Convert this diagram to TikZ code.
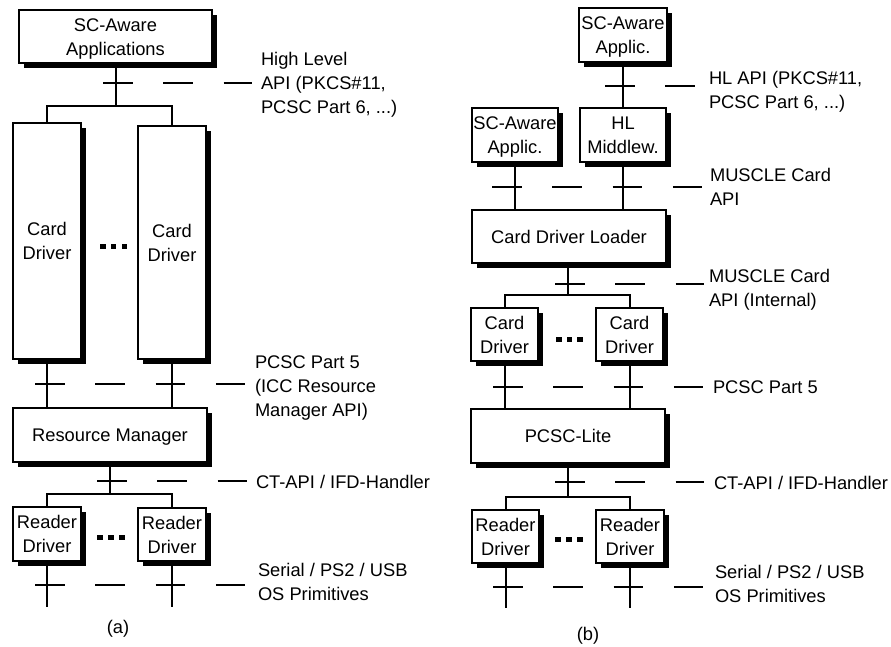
\documentclass[tikz,border=0pt]{standalone}
\usepackage{fontspec}
\setmainfont{Liberation Sans}
\usetikzlibrary{shadows}
\newcommand{\sst}{\rule[-4pt]{0pt}{21pt}}
\begin{document}
\begin{tikzpicture}[x=1pt,y=-1pt,
  every node/.style={font=\fontsize{18.3}{24}\selectfont, inner sep=0pt, outer sep=0pt},
  box/.style={draw, line width=2pt, fill=white, align=center,
     drop shadow={shadow xshift=5pt, shadow yshift=-5pt, opacity=1, fill=black}},
  wire/.style={line width=2pt},
  apidash/.style={line width=2pt, dash pattern=on 29.5pt off 30.75pt},
  lab/.style={anchor=west, align=left}]
\useasboundingbox (0,0) rectangle (891,647);

% ---------------- panel (a) ----------------
\node[box, minimum width=193pt, minimum height=53pt] (appA) at (115.5,37) {\sst SC-Aware\\ \sst Applications};
\node[box, minimum width=68pt, minimum height=236pt] (cdA1) at (47,241) {\sst Card\\ \sst Driver};
\node[box, minimum width=68pt, minimum height=233pt] (cdA2) at (172,242.5) {\sst Card\\ \sst Driver};
\node[box, minimum width=194pt, minimum height=54pt] (rm) at (110,435) {\sst Resource Manager};
\node[box, minimum width=68pt, minimum height=54pt] (rdA1) at (47,534) {\sst Reader\\ \sst Driver};
\node[box, minimum width=68pt, minimum height=53pt] (rdA2) at (172,534.5) {\sst Reader\\ \sst Driver};

\coordinate (busA1) at (115.5,106);
\draw[wire] (appA.south) -- (busA1);
\draw[wire] (cdA1.north) |- (busA1) -| (cdA2.north);
\draw[wire] (cdA1.south) -- (cdA1.south |- rm.north);
\draw[wire] (cdA2.south) -- (cdA2.south |- rm.north);
\coordinate (busA2) at (110,494);
\draw[wire] (rm.south) -- (busA2);
\draw[wire] (rdA1.north) |- (busA2) -| (rdA2.north);
\coordinate (endA1) at (47,607);
\coordinate (endA2) at (172,607);
\draw[wire] (rdA1.south) -- (endA1);
\draw[wire] (rdA2.south) -- (endA2);

% api dashes (a)
\coordinate (da1s) at (103,83);  \coordinate (da1e) at (252,83);
\coordinate (da2s) at (35,384);  \coordinate (da2e) at (246,384);
\coordinate (da3s) at (97,481);  \coordinate (da3e) at (248,481);
\coordinate (da4s) at (35,585);  \coordinate (da4e) at (246,585);
\draw[apidash] (da1s) -- (da1e);
\draw[apidash] (da2s) -- (da2e);
\draw[apidash] (da3s) -- (da3e);
\draw[apidash] (da4s) -- (da4e);

\node[lab] (la1) at (261,83) {\sst High Level\\ \sst API (PKCS\#11,\\ \sst PCSC Part 6, ...)};
\node[lab] (la2) at (255,385.5) {\sst PCSC Part 5\\ \sst (ICC Resource\\ \sst Manager API)};
\node[lab] (la3) at (256,482) {\sst CT-API / IFD-Handler};
\node[lab] (la4) at (258,582) {\sst Serial / PS2 / USB\\ \sst OS Primitives};
\node (capA) at (118,627) {\sst (a)};

% dots (a)
\foreach \cx in {103,113.7,124.3} \fill (\cx-2.75,246-2.5) rectangle (\cx+2.75,246+2.5);
\foreach \cx in {100,111,122} \fill (\cx-2.75,537-2.5) rectangle (\cx+2.75,537+2.5);

% ---------------- panel (b) ----------------
\node[box, minimum width=88pt, minimum height=54pt] (appB1) at (623,35) {\sst SC-Aware\\ \sst Applic.};
\node[box, minimum width=86pt, minimum height=54pt] (appB2) at (515,135) {\sst SC-Aware\\ \sst Applic.};
\node[box, minimum width=86pt, minimum height=54pt] (hl) at (623,135) {\sst HL\\ \sst Middlew.};
\node[box, minimum width=194pt, minimum height=53pt] (cdl) at (569,236.5) {\sst Card Driver Loader};
\node[box, minimum width=67pt, minimum height=53pt] (cdB1) at (504.5,334.5) {\sst Card\\ \sst Driver};
\node[box, minimum width=67pt, minimum height=53pt] (cdB2) at (629.5,334.5) {\sst Card\\ \sst Driver};
\node[box, minimum width=194pt, minimum height=54pt] (pcsc) at (568,436) {\sst PCSC-Lite};
\node[box, minimum width=67pt, minimum height=53pt] (rdB1) at (505.5,536.5) {\sst Reader\\ \sst Driver};
\node[box, minimum width=68pt, minimum height=53pt] (rdB2) at (630,536.5) {\sst Reader\\ \sst Driver};

\draw[wire] (appB1.south) -- (hl.north);
\draw[wire] (appB2.south) -- (appB2.south |- cdl.north);
\draw[wire] (hl.south) -- (hl.south |- cdl.north);
\coordinate (busB1) at (568,295);
\draw[wire] ([xshift=-1pt]cdl.south) -- (busB1);
\draw[wire] (cdB1.north) |- (busB1) -| (cdB2.north);
\draw[wire] (cdB1.south) -- (cdB1.south |- pcsc.north);
\draw[wire] (cdB2.south) -- (cdB2.south |- pcsc.north);
\coordinate (busB2) at (568,497);
\draw[wire] (pcsc.south) -- (busB2);
\draw[wire] (rdB1.north) |- (busB2) -| (rdB2.north);
\coordinate (endB1) at (505.5,608);
\coordinate (endB2) at (630,608);
\draw[wire] (rdB1.south) -- (endB1);
\draw[wire] (rdB2.south) -- (endB2);

% api dashes (b)
\coordinate (db1s) at (605,86);  \coordinate (db1e) at (695,86);
\coordinate (db2s) at (492,187); \coordinate (db2e) at (703.5,187);
\coordinate (db3s) at (555,284); \coordinate (db3e) at (703.5,284);
\coordinate (db4s) at (493,387); \coordinate (db4e) at (703.5,387);
\coordinate (db5s) at (555,482); \coordinate (db5e) at (704,482);
\coordinate (db6s) at (493,587); \coordinate (db6e) at (704,587);
\draw[apidash] (db1s) -- (db1e);
\draw[apidash] (db2s) -- (db2e);
\draw[apidash] (db3s) -- (db3e);
\draw[apidash] (db4s) -- (db4e);
\draw[apidash] (db5s) -- (db5e);
\draw[apidash] (db6s) -- (db6e);

\node[lab] (lb1) at (709,90.5) {\sst HL API (PKCS\#11,\\ \sst PCSC Part 6, ...)};
\node[lab] (lb2) at (710,186.5) {\sst MUSCLE Card\\ \sst API};
\node[lab] (lb3) at (709,288) {\sst MUSCLE Card\\ \sst API (Internal)};
\node[lab] (lb4) at (713,387) {\sst PCSC Part 5};
\node[lab] (lb5) at (714,483) {\sst CT-API / IFD-Handler};
\node[lab] (lb6) at (715,584) {\sst Serial / PS2 / USB\\ \sst OS Primitives};
\node (capB) at (588,634) {\sst (b)};

% dots (b)
\foreach \cx in {559,569.5,580} \fill (\cx-2.75,339-2.5) rectangle (\cx+2.75,339+2.5);
\foreach \cx in {558,569,580} \fill (\cx-2.75,539-2.5) rectangle (\cx+2.75,539+2.5);
\end{tikzpicture}
\end{document}
